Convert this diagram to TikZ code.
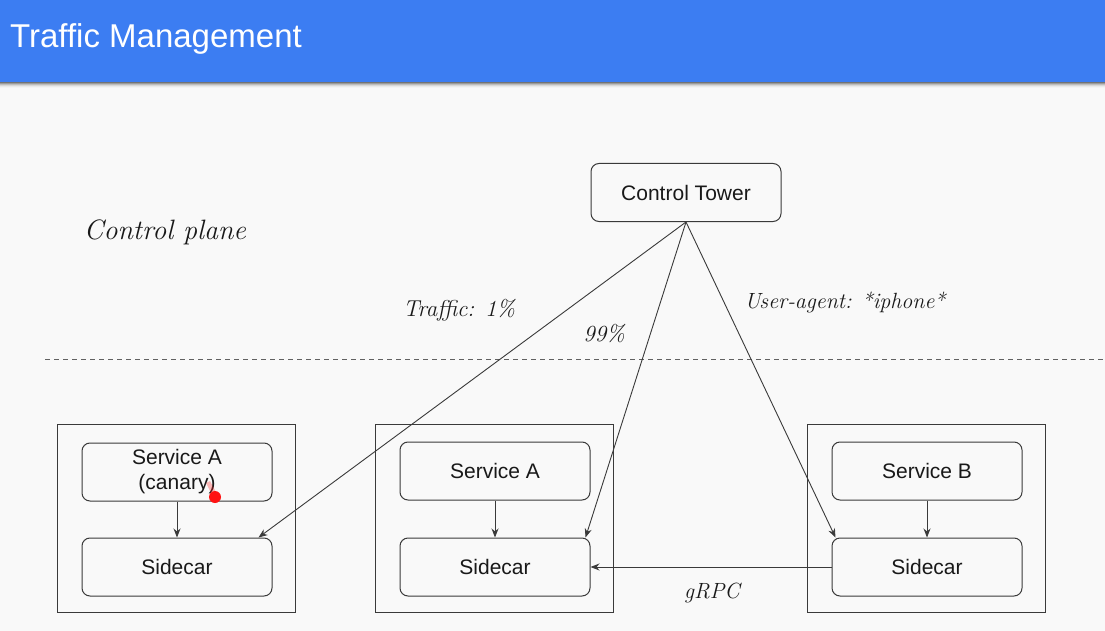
\documentclass[tikz,border=0pt]{standalone}
\usepackage{fontspec}
\newfontfamily\uisans{Liberation Sans}
\usetikzlibrary{arrows.meta,calc}
\definecolor{hdrblue}{HTML}{3C7DF2}
\definecolor{bgcol}{HTML}{F9F9F9}
\definecolor{ln}{HTML}{3A3A3A}
\tikzset{
  box/.style={draw=ln, line width=1pt, rounded corners=8pt, minimum width=190pt, minimum height=58pt, inner sep=0pt, font=\uisans\fontsize{21}{24}\selectfont, align=center, text=black!90},
  outer/.style={draw=ln, line width=1pt, minimum width=238pt, minimum height=188pt, inner sep=0pt},
  conn/.style={draw=ln, line width=0.9pt, -{Stealth[length=9pt,width=7pt]}},
  hand/.style={font=\itshape\fontsize{23}{26}\selectfont, text=black!90},
}
\begin{document}
\begin{tikzpicture}[x=1pt,y=-1pt]
\useasboundingbox (0,0) rectangle (1105,631);
\fill[bgcol] (0,0) rectangle (1105,631);
% header shadow
\foreach \i/\o in {1/0.25,2/0.18,3/0.12,4/0.07,5/0.04,6/0.02}{
  \fill[black,opacity=\o] (0,82) rectangle (1105,82+\i);
}
\fill[hdrblue] (0,0) rectangle (1105,82);
\node[anchor=base west, text=white, font=\uisans\fontsize{33}{36}\selectfont, inner sep=0pt] (title) at (10,48) {Traffic Management};

% control tower
\node[box] (ct) at (686,192.5) {Control Tower};

% handwritten labels
\node[hand, font=\itshape\fontsize{28}{30}\selectfont] (cp) at (165,232) {Control plane};
\node[hand] (l1) at (459,310) {Traffic: 1\%};
\node[hand] (l99) at (604,334) {99\%};
\node[hand, font=\itshape\fontsize{22}{26}\selectfont] (lua) at (845,302) {User-agent: *iphone*};
\node[hand, font=\itshape\fontsize{22}{26}\selectfont] (lgrpc) at (712,593) {gRPC};

% dashed separator
\coordinate (dl) at (45,359);
\coordinate (dr) at (1105,359);
\draw[ln!80, line width=0.9pt, dash pattern=on 5pt off 4pt] (dl) -- (dr);

% outer boxes
\node[outer] (oL) at (176,518) {};
\node[outer] (oM) at (494,518) {};
\node[outer] (oR) at (926,518) {};

% inner boxes
\node[box] (sL) at (177,472) {Service A\\[1pt](canary)};
\node[box] (cL) at (177,567) {Sidecar};
\node[box] (sM) at (495,471) {Service A};
\node[box] (cM) at (495,567) {Sidecar};
\node[box] (sR) at (927,471) {Service B};
\node[box] (cR) at (927,567) {Sidecar};

\draw[conn] (sL) -- (cL);
\draw[conn] (sM) -- (cM);
\draw[conn] (sR) -- (cR);

% control tower links
\draw[conn] (ct.south) -- ($(cL.north east)+(-14,0)$);
\draw[conn] (ct.south) -- ($(cM.north east)+(-5,0)$);
\draw[conn] (ct.south) -- ($(cR.north west)+(4,0)$);

% gRPC
\draw[conn] (cR.west) -- (cM.east);

% pointer mark
\fill[red!85!pink,opacity=0.3] (206,483) -- (210,481) -- (217,494) -- (213,497) -- cycle;
\node[circle, fill=red!90!pink, inner sep=0pt, minimum size=12pt] (dot) at (215,497) {};
\end{tikzpicture}
\end{document}
